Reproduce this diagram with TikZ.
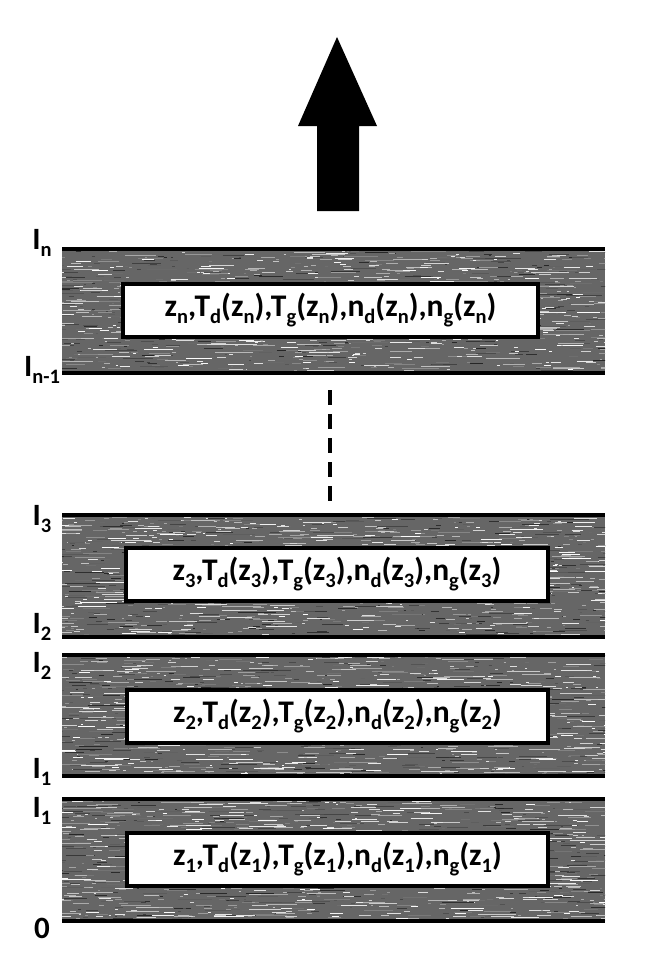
\documentclass[tikz,border=0pt]{standalone}
\usepackage{fontspec}
\setmainfont{Carlito}
\newcommand\sbx[1]{\raisebox{-0.22em}{\fontsize{20.5}{20.5}\selectfont #1}}
\newcommand\paramtext[1]{z\sbx{#1},T\sbx{d}(z\sbx{#1}),T\sbx{g}(z\sbx{#1}),n\sbx{d}(z\sbx{#1}),n\sbx{g}(z\sbx{#1})}
\newcommand\texturelayer[2]{%
  \begin{scope}
    \clip (62,#1) rectangle (605,#2);
    \fill[gray!80!black] (62,#1) rectangle (605,#2);
    \foreach \i in {1,...,1300}{
      \pgfmathsetmacro\xa{30+rnd*575}
      \pgfmathsetmacro\ya{#1+rnd*(#2-#1)}
      \pgfmathsetmacro\len{2+rnd*rnd*40}
      \pgfmathtruncatemacro\shade{15+rnd*85}
      \draw[line width=1pt, white!\shade!black] (\xa,\ya) -- ++(\len,0);
    }
  \end{scope}}
\tikzset{
  boundary/.style={line width=4pt, black},
  parambox/.style={draw=black, line width=4pt, fill=white, inner sep=0pt, font=\bfseries\fontsize{31.5}{31.5}\selectfont},
  lbl/.style={font=\bfseries\fontsize{31}{31}\selectfont, inner sep=0pt},
}
\begin{document}
\begin{tikzpicture}[x=1pt,y=-1pt]
\pgfmathsetseed{7}
\useasboundingbox (0,0) rectangle (657,974);
\fill[white] (0,0) rectangle (657,974);
% arrow
\fill[black] (337,37) -- (377,126) -- (359,126) -- (359,211) -- (317,211) -- (317,126) -- (298,126) -- cycle;
% layers
\texturelayer{249}{373}
\texturelayer{515}{637}
\texturelayer{655}{776}
\texturelayer{799}{921}
\foreach \y in {249,373,515,637,655,776,799,921}{
  \draw[boundary] (62,\y) -- (605,\y);
}
% boxes
\node[parambox, minimum width=415pt, minimum height=53pt] (bn) at (330.5,310) {\paramtext{n}};
\node[parambox, minimum width=422pt, minimum height=53pt] (b3) at (337,574.5) {\paramtext{3}};
\node[parambox, minimum width=421pt, minimum height=53pt] (b2) at (337.5,716.5) {\paramtext{2}};
\node[parambox, minimum width=421pt, minimum height=53pt] (b1) at (337.5,859.5) {\paramtext{1}};
% dashed connector
\coordinate (dtop) at (330,390);
\coordinate (dbot) at (330,506);
\draw[line width=4pt, dash pattern=on 15pt off 9pt] (dtop) -- (dbot);
% labels
\node[lbl] (ln) at (42,243) {I\sbx{n}};
\node[lbl] (lnm) at (42,370) {I\sbx{n-1}};
\node[lbl] (l3) at (42,519) {I\sbx{3}};
\node[lbl] (l2a) at (42,627) {I\sbx{2}};
\node[lbl] (l2b) at (42,666) {I\sbx{2}};
\node[lbl] (l1a) at (42,772) {I\sbx{1}};
\node[lbl] (l1b) at (42,811) {I\sbx{1}};
\node[lbl] (l0) at (42,928) {0};
\end{tikzpicture}
\end{document}
